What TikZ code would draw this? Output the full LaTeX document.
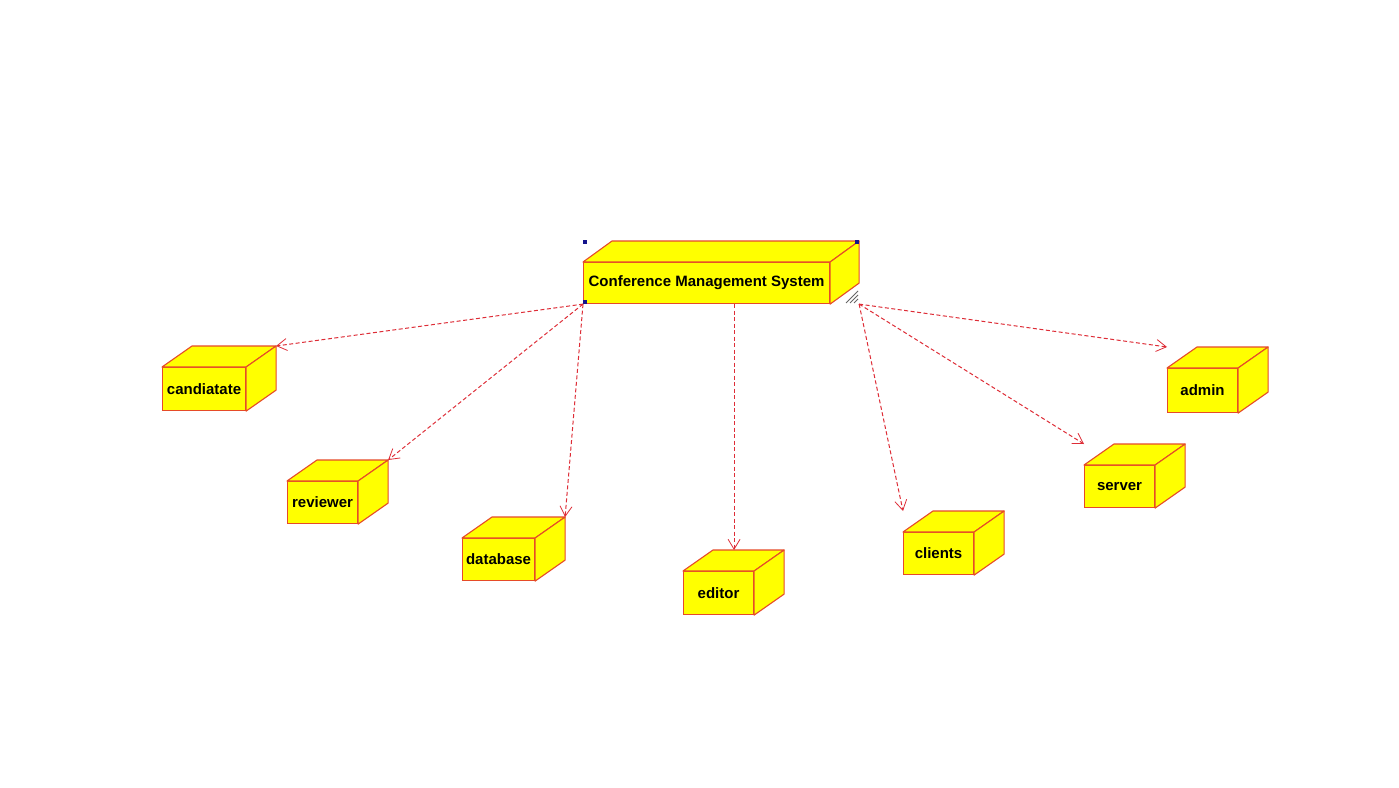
\documentclass[tikz,border=0pt]{standalone}
\usepackage{fontspec}
\setmainfont{Liberation Sans}
\usetikzlibrary{arrows.meta,calc}
\definecolor{boxfill}{RGB}{255,255,0}
\definecolor{boxedge}{RGB}{230,75,40}
\definecolor{linkred}{RGB}{222,45,55}
\definecolor{handleblue}{RGB}{20,20,140}
\tikzset{
  front/.style={draw=boxedge, fill=boxfill, line width=1.1pt, inner sep=0pt,
    anchor=north west, font=\fontsize{15}{17}\selectfont\bfseries},
  face/.style={draw=boxedge, fill=boxfill, line width=1.1pt, line join=round},
  link/.style={draw=linkred, line width=1pt, dash pattern=on 4pt off 2.5pt,
    -{Straight Barb[length=10pt,width=12pt,line width=0.8pt]}},
}
% a 3D node box: name, x, y (front top-left), width, height, depth-x, label
\newcommand\nodebox[7]{%
  \node[front, minimum width=#4pt, minimum height=#5pt] (#1) at (#2,#3) {#7};
  \path[face] (#1.north west) -- ++(#6,-21) -- ($(#1.north east)+(#6,-21)$) -- (#1.north east) -- cycle;
  \path[face] (#1.north east) -- ++(#6,-21) -- ($(#1.south east)+(#6,-21)$) -- (#1.south east) -- cycle;
  \coordinate (#1-ne) at ($(#1.north east)+(#6,-21)$);
  \coordinate (#1-nw) at ($(#1.north west)+(0,-21)$);
}
\begin{document}
\begin{tikzpicture}[x=1pt,y=-1pt]
  \useasboundingbox (0,0) rectangle (1399,787);
  \fill[white] (0,0) rectangle (1399,787);

  \nodebox{cms}{583}{262}{246}{41}{29}{Conference Management System}
  \nodebox{cand}{162}{367}{83}{43}{30}{candiatate}
  \nodebox{rev}{287}{481}{70}{42}{30}{reviewer}
  \nodebox{db}{462}{538}{72}{42}{30}{database}
  \nodebox{ed}{683}{571}{70}{43}{30}{editor}
  \nodebox{cli}{903}{532}{70}{42}{30}{clients}
  \nodebox{srv}{1084}{465}{70}{42}{30}{server}
  \nodebox{adm}{1167}{368}{70}{44}{30}{admin}

  \coordinate (cms-se) at ($(cms.south east)+(29,0)$);
  \coordinate (cms-mid) at ($(cms.south)+(27.5,0)$);
  \coordinate (ed-in) at ($(ed.north)+(15.5,-21)$);

  % dependency links
  \draw[link] (cms.south west) -- (cand-ne);
  \draw[link] (cms.south west) -- (rev-ne);
  \draw[link] (cms.south west) -- (db-ne);
  \draw[link] (cms-mid) -- (ed-in);
  \draw[link] (cms-se) -- (cli-nw);
  \draw[link] (cms-se) -- (srv-nw);
  \draw[link] (cms-se) -- (adm-nw);

  % selection handles and resize grip
  \fill[handleblue] (583,240) rectangle ++(4,4);
  \fill[handleblue] (855,240) rectangle ++(4,4);
  \fill[handleblue] (583,300) rectangle ++(4,4);
  \foreach \o in {0,4,8}
    \draw[gray!80!black, line width=0.8pt] (846+\o,303) -- (858,291+\o);
\end{tikzpicture}
\end{document}
